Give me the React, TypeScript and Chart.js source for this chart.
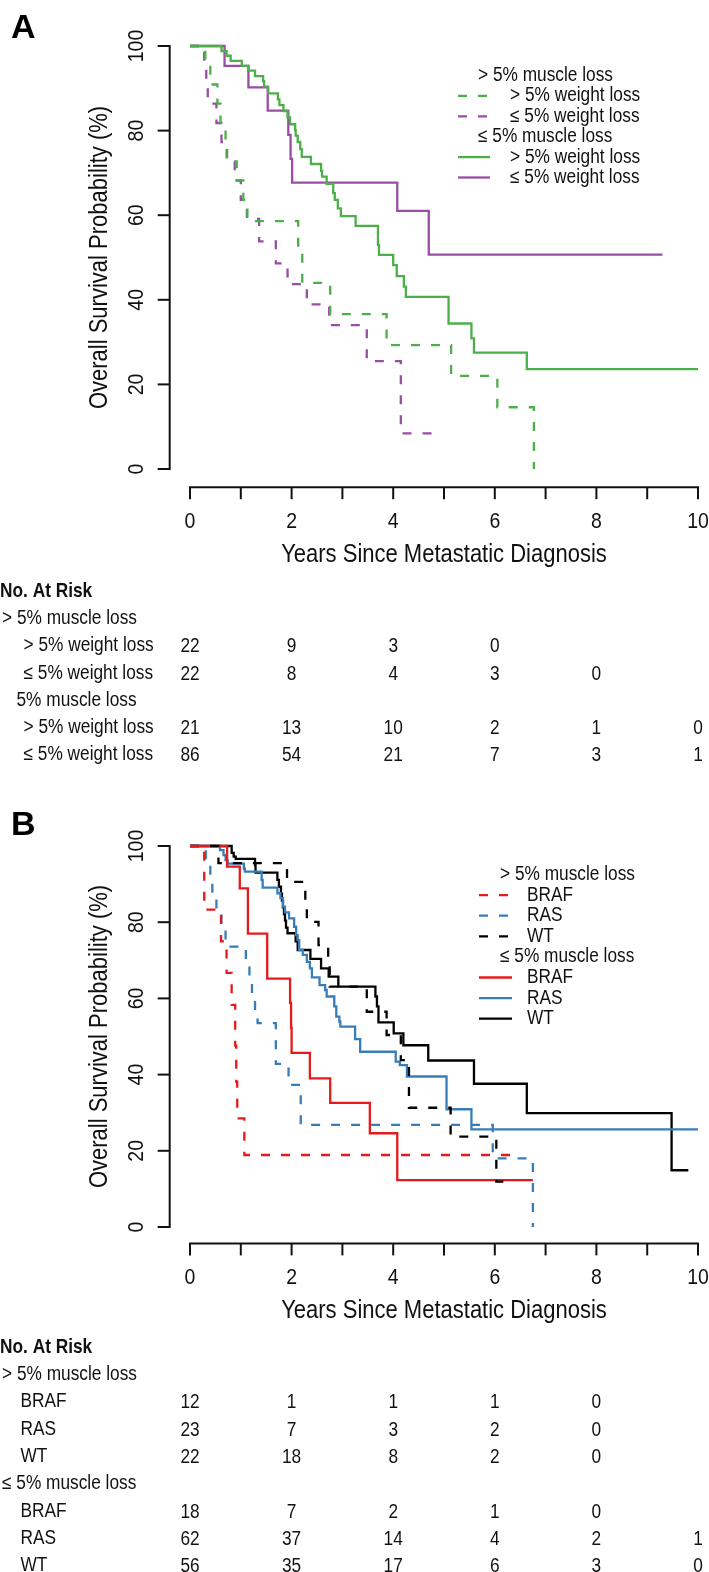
import React, { useEffect, useRef } from "react";
import { Chart, registerables } from "chart.js";

Chart.register(...registerables);

const W = 709;
const H = 1572;
const FONT = '"Liberation Sans", Arial, Helvetica, sans-serif';
const SX = 0.88; // glyph aspect of the reference lettering

const GREEN = "#4DAF4A";
const PURPLE = "#984EA3";
const RED = "#E41A1C";
const BLUE = "#377EB8";
const BLACK = "#000000";

// ---------------- Panel A : survival curves (years, %) ----------------
// > 5% muscle loss, > 5% weight loss (green dashed)
const A_HIGH_HIGH_T = [0, 0.3, 0.4, 0.54, 0.6, 0.7, 0.72, 0.92, 1.05, 1.13, 2.13, 2.21, 2.76, 3.87, 5.14, 6.05, 6.77];
const A_HIGH_HIGH_S = [100, 95.5, 90.9, 86.4, 81.8, 77.3, 72.7, 68.2, 63.6, 58.6, 51.0, 44.0, 36.6, 29.3, 22.0, 14.6, 0];
// > 5% muscle loss, <= 5% weight loss (purple dashed)
const A_HIGH_LOW_T = [0, 0.28, 0.32, 0.35, 0.52, 0.62, 0.73, 0.88, 1.0, 1.12, 1.36, 1.69, 1.92, 2.3, 2.74, 3.48, 4.15, 4.89];
const A_HIGH_LOW_S = [100, 95.5, 90.9, 86.4, 81.8, 77.3, 72.7, 68.2, 63.6, 59.1, 53.8, 48.6, 43.7, 38.9, 34.0, 25.5, 8.4, 8.4];
// <= 5% muscle loss, > 5% weight loss (green solid)
const A_LOW_HIGH_T = [0, 0.62, 0.72, 0.8, 1.02, 1.15, 1.28, 1.44, 1.46, 1.54, 1.73, 1.76, 1.84, 1.92, 1.97, 2.07, 2.08, 2.12, 2.17, 2.2, 2.38, 2.58, 2.6, 2.69, 2.82, 2.85, 2.91, 2.97, 3.26, 3.7, 3.72, 4.0, 4.07, 4.21, 4.25, 5.09, 5.54, 5.59, 6.63, 10.0];
const A_LOW_HIGH_S = [100, 98.8, 97.7, 96.5, 95.3, 94.2, 92.9, 91.7, 90.4, 88.8, 87.4, 86.0, 84.6, 83.1, 81.5, 80.1, 78.8, 77.3, 75.6, 73.8, 72.1, 70.5, 69.1, 67.4, 65.2, 63.6, 61.6, 59.8, 57.5, 53.0, 50.6, 48.2, 45.6, 43.1, 40.7, 34.4, 30.9, 27.5, 23.6, 23.6];
// <= 5% muscle loss, <= 5% weight loss (purple solid)
const A_LOW_LOW_T = [0, 0.68, 1.15, 1.53, 1.935, 1.98, 2.01, 4.08, 4.7, 9.3];
const A_LOW_LOW_S = [100, 95.3, 90.2, 84.7, 79.0, 73.3, 67.7, 61.0, 50.7, 50.7];

// ---------------- Panel B : survival curves ----------------
const B_HIGH_BRAF_T = [0, 0.28, 0.61, 0.72, 0.82, 0.89, 0.91, 0.93, 1.07, 6.45];
const B_HIGH_BRAF_S = [100, 83.3, 75.0, 66.7, 58.3, 47.6, 38.1, 28.5, 18.9, 18.9];
const B_HIGH_RAS_T = [0, 0.31, 0.4, 0.44, 0.52, 0.62, 0.7, 1.1, 1.17, 1.22, 1.28, 1.33, 1.69, 1.94, 2.18, 5.96, 6.75];
const B_HIGH_RAS_S = [100, 95.7, 91.3, 87.0, 82.6, 78.3, 73.6, 69.3, 65.0, 60.6, 56.3, 53.5, 42.8, 37.3, 26.8, 18.0, 0];
const B_HIGH_WT_T = [0, 0.56, 1.91, 2.27, 2.3, 2.53, 2.72, 2.75, 3.48, 3.87, 4.15, 4.31, 5.13, 6.03, 6.27];
const B_HIGH_WT_S = [100, 95.5, 90.6, 85.2, 80.1, 74.0, 68.6, 63.1, 56.5, 50.4, 43.8, 31.3, 23.7, 11.9, 11.9];
const B_LOW_BRAF_T = [0, 0.73, 0.98, 1.14, 1.52, 1.97, 1.99, 2.0, 2.36, 2.76, 3.54, 4.08, 6.75];
const B_LOW_BRAF_S = [100, 94.6, 88.9, 77.0, 65.2, 58.8, 52.3, 45.7, 39.0, 32.6, 24.6, 12.3, 12.3];
const B_LOW_RAS_T = [0, 0.59, 0.66, 0.7, 0.74, 1.06, 1.08, 1.41, 1.43, 1.72, 1.78, 1.83, 1.87, 1.95, 2.05, 2.09, 2.12, 2.15, 2.22, 2.3, 2.36, 2.4, 2.55, 2.66, 2.69, 2.84, 2.88, 2.94, 2.96, 3.25, 3.35, 4.05, 4.13, 4.27, 5.05, 5.54, 10.0];
const B_LOW_RAS_S = [100, 98.9, 97.6, 96.3, 95.4, 94.1, 93.3, 91.1, 89.1, 87.6, 86.3, 84.1, 82.6, 81.0, 78.8, 76.6, 75.3, 72.7, 71.4, 69.6, 67.9, 65.5, 63.5, 62.2, 60.5, 57.9, 55.2, 53.9, 52.6, 49.3, 46.0, 43.4, 42.5, 39.5, 30.9, 25.6, 25.6];
const B_LOW_WT_T = [0, 0.82, 0.86, 0.9, 1.28, 1.29, 1.72, 1.75, 1.79, 1.81, 1.83, 1.85, 1.87, 1.89, 1.92, 2.08, 2.12, 2.37, 2.58, 2.73, 2.92, 3.65, 3.68, 3.71, 4.01, 4.2, 4.69, 5.59, 6.63, 9.48, 9.81];
const B_LOW_WT_S = [100, 98.2, 97.2, 96.6, 95.0, 93.0, 91.1, 89.3, 87.5, 85.7, 83.9, 82.1, 80.4, 78.6, 77.1, 75.0, 72.7, 70.4, 67.9, 65.7, 63.1, 60.5, 57.9, 53.7, 50.8, 47.7, 43.7, 37.6, 29.9, 14.9, 14.9];

// ---------------- Axes ----------------
const X_TICKS = [0, 1, 2, 3, 4, 5, 6, 7, 8, 9, 10];
const X_LABELS = [0, 2, 4, 6, 8, 10];
const Y_TICKS = [0, 20, 40, 60, 80, 100];
const X_TITLE = "Years Since Metastatic Diagnosis";
const Y_TITLE = "Overall Survival Probability (%)";

// ---------------- Legends ----------------
const A_LEGEND_HEADERS = ["> 5% muscle loss", "\u2264 5% muscle loss"];
const A_LEGEND_ITEMS = ["> 5% weight loss", "\u2264 5% weight loss"];
const B_LEGEND_HEADERS = ["> 5% muscle loss", "\u2264 5% muscle loss"];
const B_LEGEND_ITEMS = ["BRAF", "RAS", "WT"];

// ---------------- Numbers at risk ----------------
const RISK_TIMES = [0, 2, 4, 6, 8, 10];
const RISK_TITLE = "No. At Risk";
const A_RISK_GROUPS = ["> 5% muscle loss", "5% muscle loss"];
const A_RISK_LABELS = ["> 5% weight loss", "\u2264 5% weight loss"];
const A_RISK_HIGH_HIGH = [22, 9, 3, 0];
const A_RISK_HIGH_LOW = [22, 8, 4, 3, 0];
const A_RISK_LOW_HIGH = [21, 13, 10, 2, 1, 0];
const A_RISK_LOW_LOW = [86, 54, 21, 7, 3, 1];
const B_RISK_GROUPS = ["> 5% muscle loss", "\u2264 5% muscle loss"];
const B_RISK_LABELS = ["BRAF", "RAS", "WT"];
const B_RISK_HIGH_BRAF = [12, 1, 1, 1, 0];
const B_RISK_HIGH_RAS = [23, 7, 3, 2, 0];
const B_RISK_HIGH_WT = [22, 18, 8, 2, 0];
const B_RISK_LOW_BRAF = [18, 7, 2, 1, 0];
const B_RISK_LOW_RAS = [62, 37, 14, 4, 2, 1];
const B_RISK_LOW_WT = [56, 35, 17, 6, 3, 0];

type Curve = { t: number[]; s: number[]; color: string; dash: boolean };
type LegendRow = { text: string; header: boolean; color?: string; dash?: boolean };
type RiskRow = { text: string; x: number; bold?: boolean; values?: number[] };

type Panel = {
  letter: string;
  letterY: number;
  top: number;
  bottom: number;
  curves: Curve[];
  legend: LegendRow[];
  legendY: number;
  legendHeaderX: number;
  legendLineX: [number, number];
  legendTextX: number;
  legendStep: number;
  risk: RiskRow[];
};

const DASH = [9, 11];
const LW = 2.3;

const panelA: Panel = {
  letter: "A",
  letterY: 38,
  top: 46,
  bottom: 469,
  curves: [
    { t: A_HIGH_HIGH_T, s: A_HIGH_HIGH_S, color: GREEN, dash: true },
    { t: A_HIGH_LOW_T, s: A_HIGH_LOW_S, color: PURPLE, dash: true },
    { t: A_LOW_HIGH_T, s: A_LOW_HIGH_S, color: GREEN, dash: false },
    { t: A_LOW_LOW_T, s: A_LOW_LOW_S, color: PURPLE, dash: false },
  ],
  legend: [
    { text: A_LEGEND_HEADERS[0], header: true },
    { text: A_LEGEND_ITEMS[0], header: false, color: GREEN, dash: true },
    { text: A_LEGEND_ITEMS[1], header: false, color: PURPLE, dash: true },
    { text: A_LEGEND_HEADERS[1], header: true },
    { text: A_LEGEND_ITEMS[0], header: false, color: GREEN, dash: false },
    { text: A_LEGEND_ITEMS[1], header: false, color: PURPLE, dash: false },
  ],
  legendY: 75.5,
  legendHeaderX: 478,
  legendLineX: [458, 490],
  legendTextX: 510,
  legendStep: 20.4,
  risk: [
    { text: RISK_TITLE, x: 0, bold: true },
    { text: A_RISK_GROUPS[0], x: 2 },
    { text: A_RISK_LABELS[0], x: 23.5, values: A_RISK_HIGH_HIGH },
    { text: A_RISK_LABELS[1], x: 23.5, values: A_RISK_HIGH_LOW },
    { text: A_RISK_GROUPS[1], x: 16.5 },
    { text: A_RISK_LABELS[0], x: 23.5, values: A_RISK_LOW_HIGH },
    { text: A_RISK_LABELS[1], x: 23.5, values: A_RISK_LOW_LOW },
  ],
};

const panelB: Panel = {
  letter: "B",
  letterY: 835,
  top: 846,
  bottom: 1227,
  curves: [
    { t: B_HIGH_BRAF_T, s: B_HIGH_BRAF_S, color: RED, dash: true },
    { t: B_HIGH_RAS_T, s: B_HIGH_RAS_S, color: BLUE, dash: true },
    { t: B_HIGH_WT_T, s: B_HIGH_WT_S, color: BLACK, dash: true },
    { t: B_LOW_BRAF_T, s: B_LOW_BRAF_S, color: RED, dash: false },
    { t: B_LOW_RAS_T, s: B_LOW_RAS_S, color: BLUE, dash: false },
    { t: B_LOW_WT_T, s: B_LOW_WT_S, color: BLACK, dash: false },
  ],
  legend: [
    { text: B_LEGEND_HEADERS[0], header: true },
    { text: B_LEGEND_ITEMS[0], header: false, color: RED, dash: true },
    { text: B_LEGEND_ITEMS[1], header: false, color: BLUE, dash: true },
    { text: B_LEGEND_ITEMS[2], header: false, color: BLACK, dash: true },
    { text: B_LEGEND_HEADERS[1], header: true },
    { text: B_LEGEND_ITEMS[0], header: false, color: RED, dash: false },
    { text: B_LEGEND_ITEMS[1], header: false, color: BLUE, dash: false },
    { text: B_LEGEND_ITEMS[2], header: false, color: BLACK, dash: false },
  ],
  legendY: 874.5,
  legendHeaderX: 500,
  legendLineX: [479, 512],
  legendTextX: 527,
  legendStep: 20.6,
  risk: [
    { text: RISK_TITLE, x: 0, bold: true },
    { text: B_RISK_GROUPS[0], x: 2 },
    { text: B_RISK_LABELS[0], x: 20.5, values: B_RISK_HIGH_BRAF },
    { text: B_RISK_LABELS[1], x: 20.5, values: B_RISK_HIGH_RAS },
    { text: B_RISK_LABELS[2], x: 20.5, values: B_RISK_HIGH_WT },
    { text: B_RISK_GROUPS[1], x: 2 },
    { text: B_RISK_LABELS[0], x: 20.5, values: B_RISK_LOW_BRAF },
    { text: B_RISK_LABELS[1], x: 20.5, values: B_RISK_LOW_RAS },
    { text: B_RISK_LABELS[2], x: 20.5, values: B_RISK_LOW_WT },
  ],
};

function drawText(
  ctx: CanvasRenderingContext2D,
  s: string,
  x: number,
  y: number,
  size: number,
  align: CanvasTextAlign,
  opts: { bold?: boolean; rotate?: boolean; sx?: number } = {}
) {
  const sx = opts.sx ?? SX;
  ctx.save();
  ctx.translate(x, y);
  if (opts.rotate) ctx.rotate(-Math.PI / 2);
  ctx.scale(sx, 1);
  ctx.font = `${opts.bold ? "bold " : ""}${size / sx}px ${FONT}`;
  ctx.textAlign = align;
  ctx.textBaseline = "middle";
  ctx.fillText(s, 0, 0);
  ctx.restore();
}

function decorPlugin(p: Panel) {
  return {
    id: "kmDecor" + p.letter,
    afterDraw(chart: any) {
      const ctx: CanvasRenderingContext2D = chart.ctx;
      const xs = chart.scales.x;
      const ys = chart.scales.y;
      const px = (v: number) => xs.getPixelForValue(v);
      const py = (v: number) => ys.getPixelForValue(v);
      const axisX = px(-0.4);
      const axisY = py(-4.3);
      const tick = 12;
      const ink = "#111";

      ctx.save();
      ctx.strokeStyle = ink;
      ctx.fillStyle = ink;
      ctx.lineWidth = 2;
      ctx.lineCap = "butt";
      ctx.setLineDash([]);

      // y axis
      ctx.beginPath();
      ctx.moveTo(axisX, py(0) + 1);
      ctx.lineTo(axisX, py(100) - 1);
      ctx.stroke();
      for (const v of Y_TICKS) {
        ctx.beginPath();
        ctx.moveTo(axisX, py(v));
        ctx.lineTo(axisX - tick, py(v));
        ctx.stroke();
        drawText(ctx, String(v), axisX - 33, py(v), 19.5, "center", { rotate: true });
      }

      // x axis
      ctx.beginPath();
      ctx.moveTo(px(0) - 1, axisY);
      ctx.lineTo(px(10) + 1, axisY);
      ctx.stroke();
      for (const v of X_TICKS) {
        ctx.beginPath();
        ctx.moveTo(px(v), axisY);
        ctx.lineTo(px(v), axisY + tick);
        ctx.stroke();
      }
      for (const v of X_LABELS) {
        drawText(ctx, String(v), px(v), axisY + 35, 19.5, "center");
      }

      // titles
      drawText(ctx, X_TITLE, (px(0) + px(10)) / 2, axisY + 68, 22, "center");
      drawText(ctx, Y_TITLE, axisX - 70, (py(0) + py(100)) / 2, 22, "center", { rotate: true });

      // panel letter
      ctx.fillStyle = "#000";
      ctx.font = `bold 34px ${FONT}`;
      ctx.textAlign = "left";
      ctx.textBaseline = "alphabetic";
      ctx.fillText(p.letter, 11, p.letterY);
      ctx.fillStyle = ink;

      // legend
      p.legend.forEach((row, i) => {
        const y = p.legendY + i * p.legendStep;
        if (row.header) {
          drawText(ctx, row.text, p.legendHeaderX, y, 17.3, "left");
        } else {
          ctx.save();
          ctx.strokeStyle = row.color || ink;
          ctx.lineWidth = LW;
          ctx.setLineDash(row.dash ? DASH : []);
          ctx.beginPath();
          ctx.moveTo(p.legendLineX[0], y);
          ctx.lineTo(p.legendLineX[1], y);
          ctx.stroke();
          ctx.restore();
          drawText(ctx, row.text, p.legendTextX, y, 17.3, "left");
        }
      });

      // numbers at risk
      const riskTop = axisY + 104;
      const riskStep = 27.3;
      p.risk.forEach((row, i) => {
        const y = riskTop + i * riskStep;
        drawText(ctx, row.text, row.x, y, 17.3, "left", { bold: row.bold });
        if (row.values) {
          row.values.forEach((n, j) => {
            drawText(ctx, String(n), px(RISK_TIMES[j]), y + 1, 17.3, "center");
          });
        }
      });

      ctx.restore();
    },
  };
}

function KMPanel({ panel }: { panel: Panel }) {
  const ref = useRef<HTMLCanvasElement | null>(null);
  useEffect(() => {
    if (!ref.current) return;
    const datasets = panel.curves.map((c, i) => ({
      label: panel.letter + i,
      data: c.t.map((t, k) => ({ x: t, y: c.s[k] })),
      borderColor: c.color,
      backgroundColor: c.color,
      borderWidth: LW,
      borderDash: c.dash ? DASH : [],
      borderCapStyle: "butt",
      borderJoinStyle: "miter",
      stepped: "before",
      pointRadius: 0,
      fill: false,
      clip: false,
      tension: 0,
    }));
    const chart = new Chart(ref.current, {
      type: "line",
      data: { datasets } as any,
      options: {
        responsive: false,
        animation: false,
        events: [],
        devicePixelRatio: 1,
        layout: {
          padding: { left: 190, right: W - 698, top: panel.top, bottom: H - panel.bottom },
        },
        scales: {
          x: { type: "linear", min: 0, max: 10, display: false },
          y: { type: "linear", min: 0, max: 100, display: false },
        },
        plugins: { legend: { display: false }, tooltip: { enabled: false } },
      } as any,
      plugins: [decorPlugin(panel)],
    });
    return () => chart.destroy();
  }, [panel]);
  return (
    <canvas
      ref={ref}
      width={W}
      height={H}
      style={{ position: "absolute", left: 0, top: 0, width: W, height: H }}
    />
  );
}

export default function App() {
  useEffect(() => {
    document.body.style.margin = "0";
    document.body.style.background = "#fff";
  }, []);
  return (
    <div style={{ position: "absolute", left: 0, top: 0, width: W, height: H, background: "#fff", overflow: "hidden" }}>
      <KMPanel panel={panelA} />
      <KMPanel panel={panelB} />
    </div>
  );
}
